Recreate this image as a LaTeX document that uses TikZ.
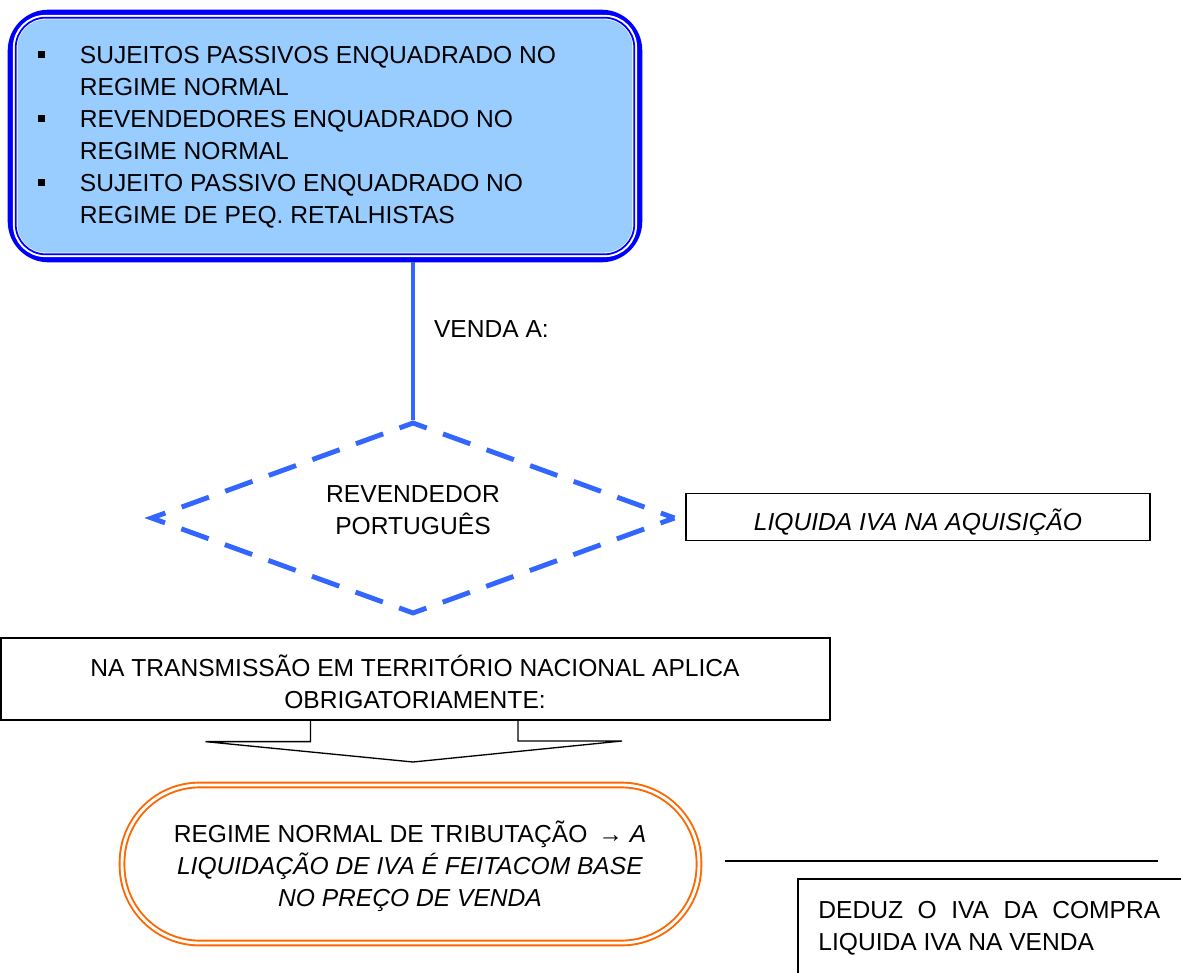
\documentclass[tikz,border=0pt]{standalone}
\usepackage{fontspec}
\setmainfont{Liberation Sans}
\usetikzlibrary{shapes.geometric,positioning}
\definecolor{azulforte}{HTML}{0000FF}
\definecolor{azulfundo}{HTML}{99CCFF}
\definecolor{azullinha}{HTML}{3366FF}
\definecolor{laranja}{HTML}{FF6600}
\newcommand{\marca}{\makebox[0.83cm][l]{\rule[0.106cm]{0.14cm}{0.14cm}}}
\newcommand{\recuo}{\hspace*{0.83cm}}

\begin{document}
\begin{tikzpicture}[x=0.02cm,y=-0.02cm,
  font=\fontsize{14}{18.2}\selectfont,
  caixa/.style={draw,line width=0.75pt,inner sep=0},
  texto/.style={inner sep=0,align=center,text=black}]
\useasboundingbox (0,0) rectangle (1181,973);
\clip (0,0) rectangle (1181,973);

\node[draw=azulforte,fill=azulfundo,line width=3.8pt,rounded corners=0.75cm,minimum width=12.56cm,minimum height=4.92cm] (grupo) at (325,136) {};
\draw[white,line width=2.6pt,rounded corners=0.6cm] ([shift={(7.5,-7.5)}]grupo.south west) rectangle ([shift={(-7.5,7.5)}]grupo.north east);
\draw[azulforte,line width=1pt,rounded corners=0.6cm] ([shift={(8,-8)}]grupo.south west) rectangle ([shift={(-8,8)}]grupo.north east);
\node[texto,align=left,anchor=north west] (itens) at (38,46) {\marca SUJEITOS PASSIVOS ENQUADRADO NO\\\recuo REGIME NORMAL\\\marca REVENDEDORES ENQUADRADO NO\\\recuo REGIME NORMAL\\\marca SUJEITO PASSIVO ENQUADRADO NO\\\recuo REGIME DE PEQ. RETALHISTAS};

\node[diamond,draw=azullinha,line width=2.8pt,dash pattern=on 0.58cm off 0.347cm,dash phase=0.29cm,minimum width=10.5cm,minimum height=3.84cm,inner sep=0] (rev) at (413,518) {};
\node[texto] (revtxt) at (413,510) {REVENDEDOR\\PORTUGUÊS};
\draw[azullinha,line width=2.3pt] (rev.north |- grupo.south) -- (rev.north) node[texto,pos=0.425,right=0.38cm] (venda) {VENDA A:};

\node[caixa,minimum width=9.28cm,minimum height=0.94cm] (aquis) at (918,517) {};
\node[texto] (aquistxt) at (918,522) {\itshape LIQUIDA IVA NA AQUISIÇÃO};

\node[caixa,minimum width=16.58cm,minimum height=1.64cm] (trans) at (415.5,679) {};
\node[texto] (transtxt) at (415,681.5) {NA TRANSMISSÃO EM TERRITÓRIO NACIONAL APLICA\\OBRIGATORIAMENTE:};
\coordinate (ponta) at (413,762);
\draw[line width=0.75pt] ([xshift=-2.1cm]trans.south) -- ++(0,21) -- ++(-105,0) -- (ponta) -- ++(209,-21) -- ++(-104,0) -- ++(0,-21);

\node[draw=laranja,double=white,double distance=1.6pt,line width=1.1pt,rounded corners=1.55cm,minimum width=11.54cm,minimum height=3.16cm] (regime) at (410.5,864) {};
\node[texto] (regtxt) at (410,866) {REGIME NORMAL DE TRIBUTAÇÃO \,→ \textit{A}\\\textit{LIQUIDAÇÃO DE IVA É FEITACOM BASE}\\\textit{NO PREÇO DE VENDA}};

\coordinate (ladoA) at (725,861);
\coordinate (ladoB) at (1158,861);
\draw[line width=0.75pt] (ladoA) -- (ladoB);

\draw[line width=0.75pt] (798,990) |- (1200,879);
\node[texto,align=left,anchor=north west] (deduz) at (818,901) {\makebox[6.84cm][s]{DEDUZ O IVA DA COMPRA}\\LIQUIDA IVA NA VENDA};
\end{tikzpicture}
\end{document}
